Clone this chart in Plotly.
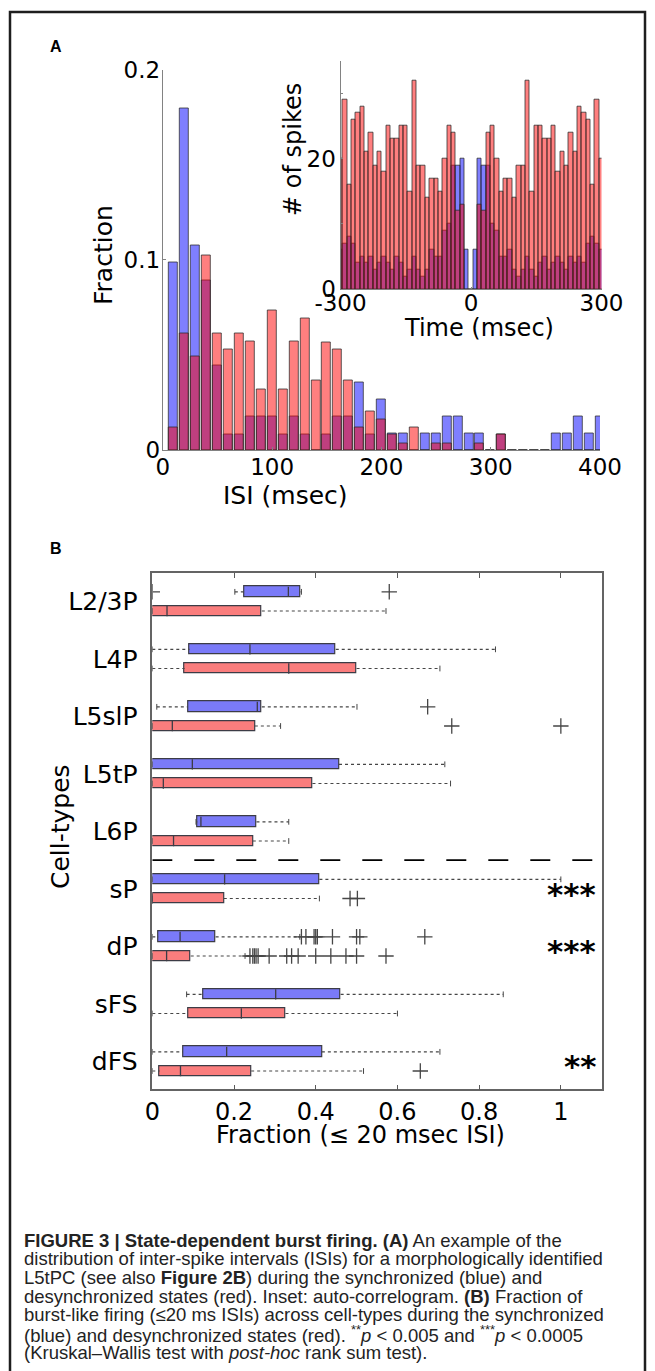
import plotly.graph_objects as go

# the page body adds an 8px margin; the figure is sized/offset to compensate
PAGE_W, PAGE_H, OFFS = 655, 1371, 8
W, H = PAGE_W - OFFS, PAGE_H - OFFS
def px(x): return (x - OFFS) / W
def py(y): return 1 - (y - OFFS) / H

# ---------------- Panel A: ISI histogram ----------------
isi_bins = [10*i for i in range(1, 41)]  # 10..400 msec
isi_sync = [0.0986, 0.1795, 0.1075, 0.0893, 0.0446, 0.0084, 0.0084, 0.0175, 0.0175, 0.0175,
            0.0084, 0.0175, 0.0084, 0.0, 0.0084, 0.0175, 0.0175, 0.0354, 0.0084, 0.0265,
            0.0088, 0.0088, 0.0, 0.0088, 0.0088, 0.0175, 0.0175, 0.0088, 0.0088, 0.0,
            0.0084, 0.0, 0.0, 0.0, 0.0, 0.0088, 0.0088, 0.0175, 0.0088, 0.0175]
isi_desync = [0.012, 0.061, 0.049, 0.102, 0.061, 0.0526, 0.061, 0.0568, 0.032, 0.0732,
              0.032, 0.0568, 0.069, 0.0363, 0.0567, 0.0526, 0.0363, 0.012, 0.020, 0.0158,
              0.0084, 0.0035, 0.012, 0.0, 0.0035, 0.0035, 0.0, 0.0, 0.0035, 0.0,
              0.0084, 0.0, 0.0, 0.0, 0.0, 0.0, 0.0, 0.0, 0.0, 0.0]

# ---------------- Inset: auto-correlogram ----------------
ac_lags = [-300 + 10*i for i in range(61)]
ac_desync = [20, 29, 16, 26, 27, 28, 21, 24, 19, 21, 18, 25, 23, 23, 25, 25, 15, 32, 19, 19, 14, 17, 17, 15, 20, 25, 24,
             12, 13, 0, 0, 0, 13, 12,
             24, 25, 20, 15, 17, 17, 14, 19, 19, 32, 15, 25, 25, 23, 23, 25, 18, 21, 19, 24, 21, 28, 27, 26, 16, 29, 20]
ac_sync = [6, 7, 8, 7, 4, 5, 4, 5, 3, 4, 5, 4, 3, 5, 4, 2, 3, 5, 3, 2, 3, 6, 5, 5, 9, 10, 19,
           19, 20, 6, 0, 6, 20, 19,
           19, 10, 9, 5, 5, 6, 3, 2, 3, 5, 3, 2, 4, 5, 3, 4, 5, 4, 3, 5, 4, 5, 4, 7, 8, 7, 6]

# ---------------- Panel B: box plots ----------------
cell_types = ["L2/3P", "L4P", "L5slP", "L5tP", "L6P", "sP", "dP", "sFS", "dFS"]
sync_lo  = [0.202, 0.0, 0.011, 0.0, 0.107, 0.0, 0.0, 0.084, 0.0]
sync_q1  = [0.225, 0.091, 0.087, 0.0, 0.110, 0.0, 0.015, 0.126, 0.075]
sync_med = [0.333, 0.239, 0.257, 0.098, 0.119, 0.177, 0.068, 0.302, 0.182]
sync_q3  = [0.363, 0.449, 0.268, 0.457, 0.255, 0.409, 0.155, 0.461, 0.415]
sync_hi  = [0.365, 0.840, 0.501, 0.716, 0.334, 1.0, 0.361, 0.859, 0.704]
desync_lo  = [0.0, 0.0, 0.0, 0.0, 0.0, 0.0, 0.0, 0.0, 0.0]
desync_q1  = [0.0, 0.079, 0.0, 0.0, 0.0, 0.0, 0.0, 0.088, 0.018]
desync_med = [0.036, 0.334, 0.049, 0.027, 0.052, 0.0, 0.035, 0.218, 0.069]
desync_q3  = [0.268, 0.500, 0.251, 0.392, 0.246, 0.175, 0.094, 0.326, 0.242]
desync_hi  = [0.572, 0.704, 0.314, 0.730, 0.334, 0.409, 0.227, 0.600, 0.517]
sync_outliers = {"L2/3P": [0.0, 0.580], "L5slP": [0.674],
                 "dP": [0.365, 0.376, 0.396, 0.400, 0.404, 0.441, 0.500, 0.508, 0.667]}
desync_outliers = {"L5slP": [0.733, 1.0], "sP": [0.484, 0.502],
                   "dP": [0.239, 0.246, 0.250, 0.254, 0.259, 0.286, 0.329, 0.341, 0.357,
                          0.400, 0.437, 0.474, 0.500, 0.572],
                   "dFS": [0.656]}
significance = {"sP": "***", "dP": "***", "dFS": "**"}

FONT = "DejaVu Sans"
BLUE_A = "rgba(0,0,255,0.5)"
RED_A = "rgba(255,0,0,0.5)"
EDGE_A = "rgba(40,40,40,0.75)"
BLUE_B = "rgb(122,122,248)"
RED_B = "rgb(250,125,125)"
EDGE_B = "rgb(60,60,70)"

fig = go.Figure()

# Panel A main histogram
fig.add_trace(go.Bar(x=isi_bins, y=isi_sync, width=8.2, marker=dict(color=BLUE_A, line=dict(color=EDGE_A, width=1)),
                     xaxis="x", yaxis="y", showlegend=False))
fig.add_trace(go.Bar(x=isi_bins, y=isi_desync, width=8.2, marker=dict(color=RED_A, line=dict(color=EDGE_A, width=1)),
                     xaxis="x", yaxis="y", showlegend=False))
# Inset
fig.add_trace(go.Bar(x=ac_lags, y=ac_sync, width=10, marker=dict(color=BLUE_A, line=dict(color=EDGE_A, width=1)),
                     xaxis="x2", yaxis="y2", showlegend=False))
fig.add_trace(go.Bar(x=ac_lags, y=ac_desync, width=10, marker=dict(color=RED_A, line=dict(color=EDGE_A, width=1)),
                     xaxis="x2", yaxis="y2", showlegend=False))

# Panel B
OFF = 0.167
BH = 0.18
CAP = 0.05
groups = [
    (sync_lo, sync_q1, sync_med, sync_q3, sync_hi, sync_outliers, -OFF, BLUE_B),
    (desync_lo, desync_q1, desync_med, desync_q3, desync_hi, desync_outliers, OFF, RED_B),
]
for lo, q1, med, q3, hi, outl, off, col in groups:
    pos = [i + 1 + off for i in range(len(cell_types))]
    wx, wy, cx, cy = [], [], [], []
    for i, p in enumerate(pos):
        if q1[i] > lo[i]:
            wx += [lo[i], q1[i], None]; wy += [p, p, None]
        if hi[i] > q3[i]:
            wx += [q3[i], hi[i], None]; wy += [p, p, None]
        cx += [lo[i], lo[i], None, hi[i], hi[i], None]
        cy += [p - CAP, p + CAP, None, p - CAP, p + CAP, None]
    fig.add_trace(go.Scatter(x=wx, y=wy, mode="lines", line=dict(color="rgb(70,70,70)", width=1.2, dash="dot"),
                             xaxis="x3", yaxis="y3", showlegend=False, hoverinfo="skip"))
    fig.add_trace(go.Scatter(x=cx, y=cy, mode="lines", line=dict(color="rgb(70,70,70)", width=1),
                             xaxis="x3", yaxis="y3", showlegend=False, hoverinfo="skip"))
    fig.add_trace(go.Bar(orientation="h", y=pos, x=[b - a for a, b in zip(q1, q3)], base=q1, width=BH,
                         marker=dict(color=col, line=dict(color=EDGE_B, width=1.2)),
                         xaxis="x3", yaxis="y3", showlegend=False))
    mx, my = [], []
    for i, p in enumerate(pos):
        mx += [med[i], med[i], None]; my += [p - BH/2, p + BH/2, None]
    fig.add_trace(go.Scatter(x=mx, y=my, mode="lines", line=dict(color=EDGE_B, width=1.3),
                             xaxis="x3", yaxis="y3", showlegend=False, hoverinfo="skip"))
    ox, oy = [], []
    for i, name in enumerate(cell_types):
        for v in outl.get(name, []):
            ox.append(v); oy.append(pos[i])
    fig.add_trace(go.Scatter(x=ox, y=oy, mode="markers",
                             marker=dict(symbol="cross-thin", size=11, line=dict(color="rgb(70,70,70)", width=1.3)),
                             xaxis="x3", yaxis="y3", showlegend=False))

axis_line = "rgb(130,130,130)"
tickfont = dict(family=FONT, size=23, color="black")
common = dict(showgrid=False, zeroline=False, automargin=False)
fig.update_layout(
    width=W, height=H, margin=dict(l=0, r=0, t=0, b=0, autoexpand=False),
    paper_bgcolor="white", plot_bgcolor="rgba(0,0,0,0)",
    barmode="overlay", bargap=0,
    xaxis=dict(domain=[px(162.8), px(600)], range=[0, 400], anchor="y",
               tickvals=[0, 100, 200, 300, 400], ticks="inside", ticklen=3, tickcolor=axis_line,
               showline=True, linecolor=axis_line, linewidth=1,
               tickfont=tickfont, ticklabelstandoff=-4, **common),
    yaxis=dict(domain=[py(450), py(69.5)], range=[0, 0.2], anchor="x",
               tickvals=[0, 0.1, 0.2], ticktext=["0", "0.1", "0.2"], ticks="inside", ticklen=3, tickcolor=axis_line,
               showline=True, linecolor=axis_line, linewidth=1,
               tickfont=tickfont, ticklabelstandoff=-3, **common),
    xaxis2=dict(domain=[px(340.5), px(601.5)], range=[-300, 300], anchor="y2",
                tickvals=[-300, 0, 300], ticktext=["-300", "0", "300"], ticks="inside", ticklen=2, tickcolor=axis_line,
                showline=True, linecolor=axis_line, linewidth=1,
                tickfont=tickfont, ticklabelstandoff=-7, **common),
    yaxis2=dict(domain=[py(289.3), py(60.7)], range=[0, 35], anchor="x2",
                tickvals=[0, 10, 20, 30], ticktext=["0", "", "20", ""], ticks="inside", ticklen=2, tickcolor=axis_line,
                showline=True, linecolor=axis_line, linewidth=1,
                tickfont=tickfont, ticklabelstandoff=-1, **common),
    xaxis3=dict(domain=[px(152.3), px(601.7)], range=[0, 1.1], anchor="y3",
                tickvals=[0, 0.2, 0.4, 0.6, 0.8, 1.0], ticktext=["0", "0.2", "0.4", "0.6", "0.8", "1"],
                ticks="inside", ticklen=5, tickcolor="rgb(90,90,90)",
                showline=True, mirror="allticks", linecolor="rgb(100,100,100)", linewidth=1.5,
                tickfont=dict(family=FONT, size=24, color="black"),
                ticklabelstandoff=0, **common),
    yaxis3=dict(domain=[py(1089.3), py(573.3)], range=[9.485, 0.511], anchor="x3",
                tickvals=list(range(1, len(cell_types) + 1)), ticktext=cell_types, ticks="",
                showline=True, mirror=True, linecolor="rgb(100,100,100)", linewidth=1.5,
                tickfont=dict(family=FONT, size=25, color="black"),
                ticklabelstandoff=8, **common),
)

# dashed separator between layer groups and sub-types
fig.add_shape(type="line", xref="x3", yref="y3", x0=0, x1=1.1, y0=5.5, y1=5.5,
              line=dict(color="black", width=1.6, dash="20px,22px"))

# outer frame
fig.add_shape(type="rect", xref="paper", yref="paper", x0=px(10), x1=px(645), y0=py(1385), y1=py(12),
              line=dict(color="rgb(30,30,30)", width=2.5), fillcolor="rgba(0,0,0,0)", layer="below")

def ann(text, x, y, size, angle=0, xanchor="center", yanchor="middle", family=FONT, color="black"):
    fig.add_annotation(text=text, x=px(x), y=py(y), xref="paper", yref="paper", showarrow=False,
                       textangle=angle, xanchor=xanchor, yanchor=yanchor,
                       font=dict(family=family, size=size, color=color))

ann("<b>A</b>", 56, 47, 16, family="Liberation Sans")
ann("<b>B</b>", 56, 548, 16, family="Liberation Sans")
ann("Fraction", 104, 255, 25, angle=-90)
ann("ISI (msec)", 285, 495, 25)
ann("# of spikes", 293, 150, 24, angle=-90)
ann("Time (msec)", 479, 328, 24)
ann("Cell-types", 60, 827, 25, angle=-90)
ann("Fraction (≤ 20 msec ISI)", 360, 1135, 24)

# significance stars
for name, stars in significance.items():
    i = cell_types.index(name)
    fig.add_annotation(text="<b>" + stars + "</b>", x=1.09, y=i + 1.08, xref="x3", yref="y3", showarrow=False,
                       xanchor="right", yanchor="middle", font=dict(family=FONT, size=31, color="black"))

caption = [
    "<b>FIGURE 3 | State-dependent burst firing. (A)</b> An example of the",
    "distribution of inter-spike intervals (ISIs) for a morphologically identified",
    "L5tPC (see also <b>Figure 2B</b>) during the synchronized (blue) and",
    "desynchronized states (red). Inset: auto-correlogram. <b>(B)</b> Fraction of",
    "burst-like firing (≤20 ms ISIs) across cell-types during the synchronized",
    "(blue) and desynchronized states (red). <sup>**</sup><i>p</i> &lt; 0.005 and <sup>***</sup><i>p</i> &lt; 0.0005",
    "(Kruskal–Wallis test with <i>post-hoc</i> rank sum test).",
]
for k, line in enumerate(caption):
    ann(line, 22, 1240 + 18.7 * k, 18.5, xanchor="left", family="Liberation Sans Narrow, Liberation Sans",
        color="rgb(35,35,35)")

fig.write_html("out.html")
